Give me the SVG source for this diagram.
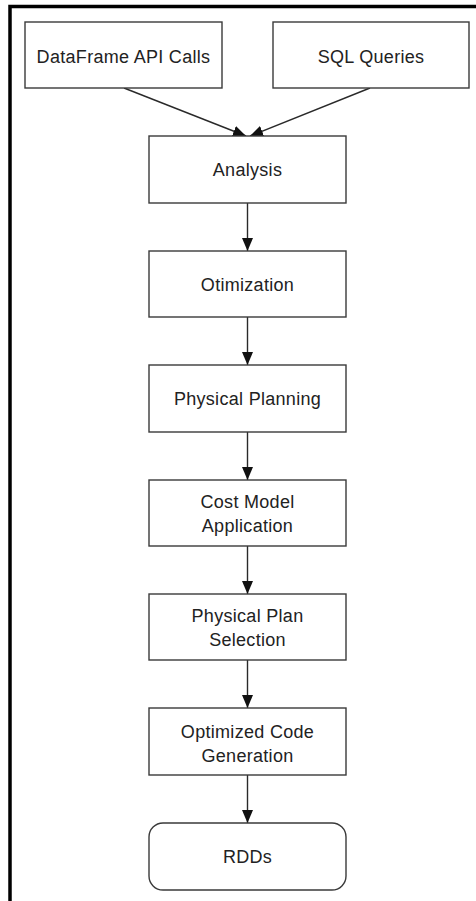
<svg xmlns="http://www.w3.org/2000/svg" width="476" height="901" viewBox="0 0 476 901">
<defs>
<marker id="ah" viewBox="0 0 13 11" refX="13" refY="5.5" markerWidth="13" markerHeight="11" markerUnits="userSpaceOnUse" orient="auto">
<path d="M0,0 L13,5.5 L0,11 Z" fill="#111"/>
</marker>
<style>
.box{fill:#fff;stroke:#3a3a3a;stroke-width:1.4}
.lbl{font-family:"Liberation Sans",Arial,sans-serif;font-size:18px;fill:#222;text-anchor:middle;letter-spacing:0.3px}
.edge{stroke:#2a2a2a;stroke-width:1.4;fill:none;marker-end:url(#ah)}
</style>
</defs>
<rect width="476" height="901" fill="#fff"/>
<path d="M10 901 V6.5 H476" fill="none" stroke="#000" stroke-width="3.5"/>
<g id="connectors">
<line class="edge" x1="124" y1="88" x2="246" y2="136"/>
<line class="edge" x1="370" y1="88" x2="250" y2="136"/>
<line class="edge" x1="247.5" y1="203" x2="247.5" y2="251"/>
<line class="edge" x1="247.5" y1="317" x2="247.5" y2="365"/>
<line class="edge" x1="247.5" y1="432" x2="247.5" y2="480"/>
<line class="edge" x1="247.5" y1="546" x2="247.5" y2="594"/>
<line class="edge" x1="247.5" y1="660" x2="247.5" y2="708"/>
<line class="edge" x1="247.5" y1="775" x2="247.5" y2="823"/>
</g>
<g id="dataframe">
<rect class="box" x="25" y="22" width="197" height="66"/>
<text class="lbl" x="123.5" y="62.5">DataFrame API Calls</text>
</g>
<g id="sql">
<rect class="box" x="273" y="22" width="196" height="66"/>
<text class="lbl" x="371" y="62.5">SQL Queries</text>
</g>
<g id="analysis">
<rect class="box" x="149" y="136" width="197" height="67"/>
<text class="lbl" x="247.5" y="176">Analysis</text>
</g>
<g id="otimization">
<rect class="box" x="149" y="251" width="197" height="66"/>
<text class="lbl" x="247.5" y="291">Otimization</text>
</g>
<g id="physical-planning">
<rect class="box" x="149" y="365" width="197" height="67"/>
<text class="lbl" x="247.5" y="405">Physical Planning</text>
</g>
<g id="cost-model">
<rect class="box" x="149" y="480" width="197" height="66"/>
<text class="lbl" x="247.5" y="507.5">Cost Model</text>
<text class="lbl" x="247.5" y="531.5">Application</text>
</g>
<g id="plan-selection">
<rect class="box" x="149" y="594" width="197" height="66"/>
<text class="lbl" x="247.5" y="621.5">Physical Plan</text>
<text class="lbl" x="247.5" y="645.5">Selection</text>
</g>
<g id="code-generation">
<rect class="box" x="149" y="708" width="197" height="67"/>
<text class="lbl" x="247.5" y="737.5">Optimized Code</text>
<text class="lbl" x="247.5" y="761.5">Generation</text>
</g>
<g id="rdds">
<rect class="box" x="149" y="823" width="197" height="67" rx="14" ry="14"/>
<text class="lbl" x="247.5" y="863">RDDs</text>
</g>
</svg>
